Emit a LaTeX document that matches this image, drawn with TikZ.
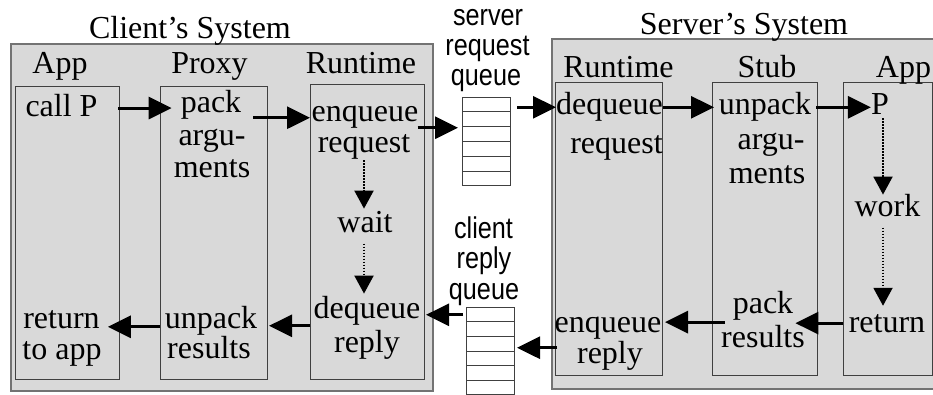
\documentclass[tikz,border=0pt]{standalone}
\usepackage{fontspec}
\setmainfont{Liberation Serif}
\newfontfamily\qfont[FakeStretch=0.84]{Liberation Sans}
\usetikzlibrary{arrows.meta,calc}

\definecolor{panel}{HTML}{D9D9D9}

\tikzset{
  txt/.style={inner sep=0pt, anchor=base, font=\fontsize{32}{32}\selectfont},
  qtxt/.style={inner sep=0pt, anchor=base, font=\qfont\fontsize{30}{30}\selectfont},
  outerbox/.style={draw=black!55, line width=1.6pt, fill=panel, inner sep=0pt, anchor=north west},
  colbox/.style={draw=black!75, line width=1pt, fill=panel, inner sep=0pt, anchor=north west},
  qbox/.style={draw=black!75, line width=1pt, fill=white, inner sep=0pt, anchor=north west},
  arr/.style={line width=3pt, -{Triangle[length=23pt,width=22pt]}},
  darr/.style={line width=2pt, dash pattern=on 1.6pt off 1.4pt, -{Triangle[length=18pt,width=19pt]}},
}

\begin{document}
\begin{tikzpicture}[x=1pt, y=-1pt]
\useasboundingbox (0,0) rectangle (933,395);

% ---------- client side ----------
\node[outerbox, minimum width=422pt, minimum height=347pt] (cOuter) at (10,43) {};
\node[colbox, minimum width=104pt, minimum height=293pt] (cAppBox) at (15,86) {};
\node[colbox, minimum width=107pt, minimum height=293pt] (cProxyBox) at (160,86) {};
\node[colbox, minimum width=114pt, minimum height=295pt] (cRunBox) at (310,84) {};

\node[txt] (cTitle) at (190,39) {Client’s System};
\node[txt] (cApp) at (60,74) {App};
\node[txt] (cProxy) at (209.5,74) {Proxy};
\node[txt] (cRun) at (361,74) {Runtime};

\node[txt] (callP) at (61.5,117) {call P};
\node[txt] (pack1) at (211,113) {pack};
\node[txt] (pack2) at (212,146) {argu-};
\node[txt] (pack3) at (212,178) {ments};
\node[txt] (enq1) at (365,122) {enqueue};
\node[txt] (enq2) at (364,153) {request};
\node[txt] (wait) at (365,233) {wait};
\node[txt] (deq1) at (367,318) {dequeue};
\node[txt] (deq2) at (367,352) {reply};
\node[txt] (ret1) at (61.5,328) {return};
\node[txt] (ret2) at (62,359) {to app};
\node[txt] (unp1) at (211,328) {unpack};
\node[txt] (unp2) at (209,358) {results};

% ---------- server side ----------
\node[outerbox, minimum width=400pt, minimum height=350pt] (sOuter) at (551,38) {};
\node[colbox, minimum width=107pt, minimum height=293pt] (sRunBox) at (555,82) {};
\node[colbox, minimum width=105pt, minimum height=293pt] (sStubBox) at (712,82) {};
\node[colbox, minimum width=89pt, minimum height=293pt] (sAppBox) at (843,82) {};

\node[txt] (sTitle) at (744,35) {Server’s System};
\node[txt] (sRun) at (618.5,78) {Runtime};
\node[txt] (sStub) at (767,78) {Stub};
\node[txt] (sApp) at (903.5,78) {App};

\node[txt] (sdeq1) at (609.5,115) {dequeue};
\node[txt] (sdeq2) at (616.5,154) {request};
\node[txt] (sunp1) at (765,115) {unpack};
\node[txt] (sunp2) at (771,150) {argu-};
\node[txt] (sunp3) at (767,184) {ments};
\node[txt] (sP) at (880,115) {P};
\node[txt] (swork) at (887.5,217) {work};
\node[txt] (sret) at (887,332) {return};
\node[txt] (spack1) at (763,313) {pack};
\node[txt] (spack2) at (763,347) {results};
\node[txt] (senq1) at (608,332) {enqueue};
\node[txt] (senq2) at (610,363) {reply};

% ---------- queues ----------
\node[qtxt] (srqA) at (488,26) {server};
\node[qtxt] (srqB) at (487.5,56) {request};
\node[qtxt] (srqC) at (486,86) {queue};
\node[qbox, minimum width=48pt, minimum height=88pt] (srq) at (462,97) {};
\foreach \k in {1,...,5}
  \draw[black!75, line width=1pt] ($(srq.north west)!\k/6!(srq.south west)$) -- ($(srq.north east)!\k/6!(srq.south east)$);

\node[qtxt] (crqA) at (483.5,238) {client};
\node[qtxt] (crqB) at (484,268) {reply};
\node[qtxt] (crqC) at (484,299) {queue};
\node[qbox, minimum width=48pt, minimum height=87pt] (crq) at (466,307) {};
\foreach \k in {1,...,5}
  \draw[black!75, line width=1pt] ($(crq.north west)!\k/6!(crq.south west)$) -- ($(crq.north east)!\k/6!(crq.south east)$);

% ---------- request path ----------
\draw[arr] ($(callP.east -| cAppBox.east)+(-2,2)$) -- ($(callP.east -| pack3.west)+(-2,2)$);
\draw[arr] ($(enq1.west -| pack3.east)+(3,0)$) -- (enq1.west -| cRunBox.west);
\draw[arr] ($(enq1.east)+(-1,10)$) -- ($(enq1.east -| srq.west)+(-4,10)$);
\draw[arr] ($(sdeq1.west -| srq.east)+(6,0)$) -- (sdeq1.west);
\draw[arr] (sdeq1.east) -- ($(sdeq1.east -| sStubBox.west)+(2,0)$);
\draw[arr] ($(sunp1.east -| sStubBox.east)+(-2,0)$) -- (sunp1.east -| sP.west);

% ---------- reply path ----------
\draw[arr] (sret.west -| sAppBox.west) -- ($(sret.west -| spack1.east)+(2,0)$);
\draw[arr] ($(sret.west -| spack1.west)+(-8,-1)$) -- ($(sret.west -| sRunBox.east)+(2,-1)$);
\draw[arr] ($(senq1.west -| sRunBox.west)+(2,20)$) -- ($(senq1.west -| crq.east)+(2,20)$);
\draw[arr] ($(deq1.east -| crq.west)+(-3,4.5)$) -- ($(deq1.east -| cRunBox.east)+(1,4.5)$);
\draw[arr] ($(unp1.east -| cRunBox.west)+(0,5.5)$) -- ($(unp1.east -| cProxyBox.east)+(1,5.5)$);
\draw[arr] ($(unp1.west -| cProxyBox.west)+(0,6.5)$) -- ($(unp1.west -| ret1.east)+(8,6.5)$);

% ---------- waiting (dotted) ----------
\draw[darr] (enq2.south) -- ($(enq2.south |- wait.north)+(0,-3)$);
\draw[darr] ($(wait.south)+(-1,10)$) -- ($(wait.south |- deq1.north)+(-1,-2)$);
\draw[darr] ($(sP.south)+(3,3)$) -- ($(sP.south |- swork.north)+(3,0)$);
\draw[darr] ($(sP.south |- swork.south)+(3,10)$) -- ($(sP.south |- sret.north)+(3,-8)$);
\end{tikzpicture}
\end{document}
